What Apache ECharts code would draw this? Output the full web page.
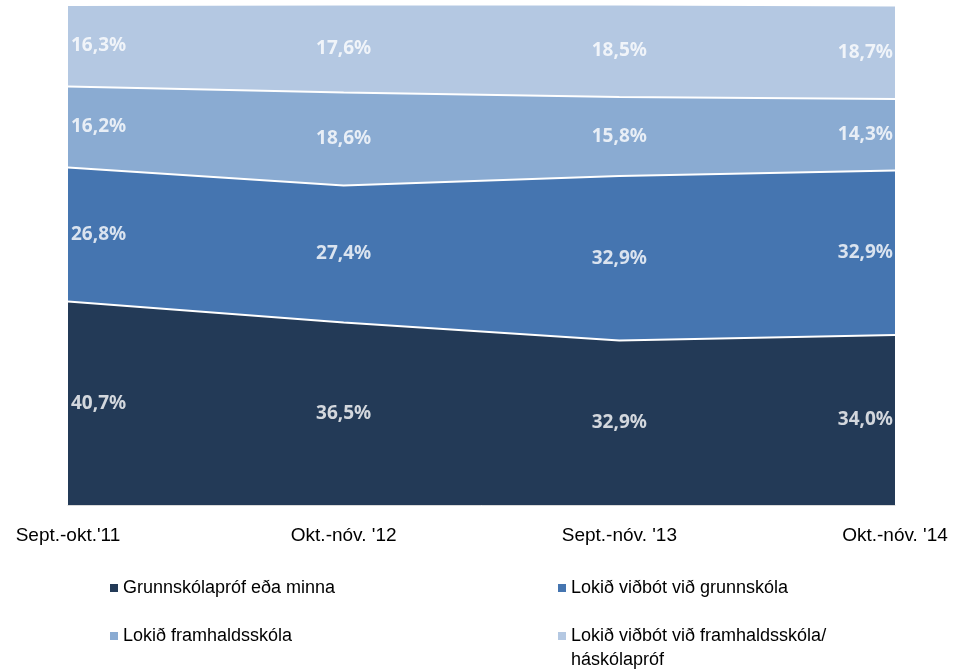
<!DOCTYPE html>
<html lang="is">
<head>
    <meta charset="UTF-8">
    <title>chart</title>
    <script src="https://cdn.jsdelivr.net/npm/echarts@6/dist/echarts.min.js"></script>
</head>
<body style="margin:0">
<div id="container" style="width:968px;height:670px"></div>
<script>
    var categories = ["Sept.-okt.'11", "Okt.-nóv. '12", "Sept.-nóv. '13", "Okt.-nóv. '14"];
    var seriesNames = [
        'Grunnskólapróf eða minna',
        'Lokið viðbót við grunnskóla',
        'Lokið framhaldsskóla',
        'Lokið viðbót við framhaldsskóla/\nháskólapróf'
    ];
    var grunnskoli = [40.7, 36.5, 32.9, 34.0];
    var vidbotGrunn = [26.8, 27.4, 32.9, 32.9];
    var framhald = [16.2, 18.6, 15.8, 14.3];
    var haskoli = [16.3, 17.6, 18.5, 18.7];
    var colors = ['#233a57', '#4575b0', '#8aabd2', '#b4c8e2'];

    var values = [grunnskoli, vidbotGrunn, framhald, haskoli];
    var labelFont = 'Noto Sans';
    var axisFont = 'Liberation Sans';

    var series = [];
    values.forEach(function (vals, i) {
        series.push({
            type: 'line',
            name: seriesNames[i],
            stack: 'total',
            data: vals,
            symbol: 'none',
            lineStyle: {color: '#ffffff', width: 2},
            areaStyle: {color: colors[i], opacity: 1},
            itemStyle: {color: colors[i]},
            z: 2
        });
    });

    // labels sit in the middle of each band
    values.forEach(function (vals, i) {
        var pts = vals.map(function (v, k) {
            var below = 0;
            for (var j = 0; j < i; j++) below += values[j][k];
            var align = k === 0 ? 'left' : (k === vals.length - 1 ? 'right' : 'center');
            var dx = k === 0 ? 3 : (k === vals.length - 1 ? -2 : 0);
            return {
                value: [k, below + v / 2],
                label: {align: align, offset: [dx, 0]},
                text: v.toFixed(1).replace('.', ',') + '%'
            };
        });
        series.push({
            type: 'scatter',
            name: 'lbl' + i,
            data: pts,
            symbolSize: 0,
            silent: true,
            z: 5,
            label: {
                show: true,
                position: 'inside',
                color: '#ffffff',
                fontFamily: labelFont,
                fontWeight: 'bold',
                fontSize: 19,
                formatter: function (p) { return p.data.text; }
            }
        });
    });

    var legendPos = [
        {left: 110, top: 576},
        {left: 558, top: 576},
        {left: 110, top: 624},
        {left: 558, top: 624}
    ];
    var legends = seriesNames.map(function (n, i) {
        var twoLine = n.indexOf('\n') >= 0;
        return {
            data: [{
                name: n,
                // square kept at the first line when the name wraps
                icon: twoLine ? 'path://M0,0L8,0L8,8L0,8Z M0,32L0.01,32' : 'rect'
            }],
            left: legendPos[i].left,
            top: legendPos[i].top,
            padding: 0,
            itemWidth: 8,
            itemHeight: twoLine ? 32 : 8,
            itemGap: 6,
            selectedMode: false,
            textStyle: {
                color: '#000000',
                fontFamily: axisFont,
                fontSize: 18,
                lineHeight: 24,
                padding: [0, 0, 0, 0]
            }
        };
    });

    var chart = echarts.init(document.getElementById('container'));
    chart.setOption({
        animation: false,
        color: colors,
        grid: {left: 68, right: 73, top: 5, bottom: 165},
        legend: legends,
        xAxis: {
            type: 'category',
            data: categories,
            boundaryGap: false,
            axisTick: {show: false},
            axisLine: {show: true, lineStyle: {color: '#d9d9d9', width: 1}},
            axisLabel: {
                color: '#000000',
                fontFamily: axisFont,
                fontSize: 19,
                margin: 21
            }
        },
        yAxis: {
            type: 'value',
            min: 0,
            max: 100,
            show: false
        },
        series: series
    });
</script>
</body>
</html>
